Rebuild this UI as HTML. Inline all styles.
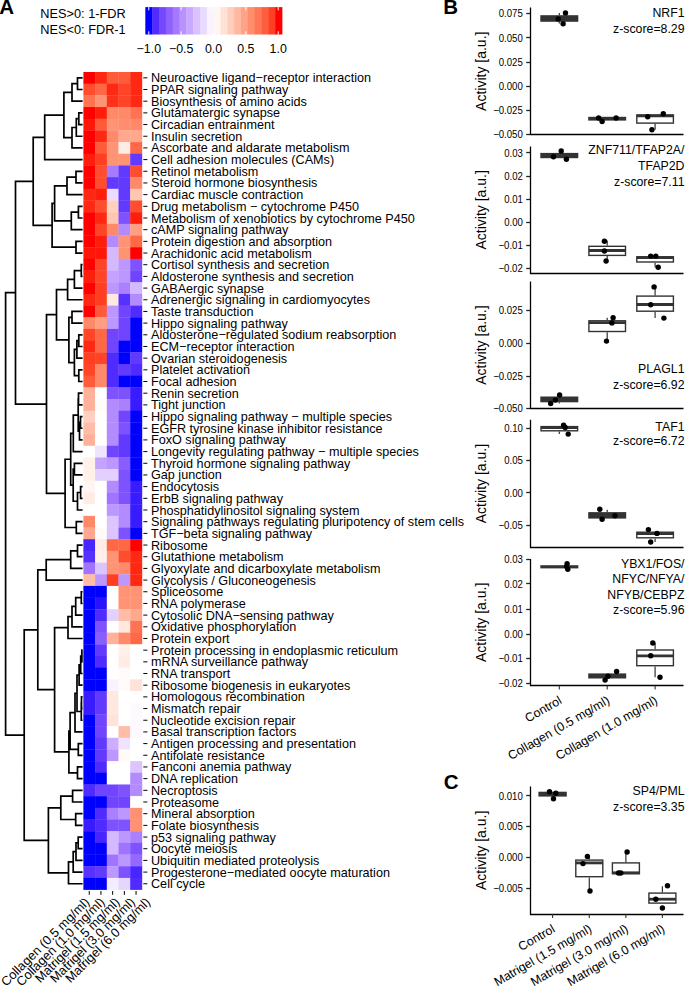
<!DOCTYPE html>
<html><head><meta charset="utf-8"><style>
html,body{margin:0;padding:0;background:#fff;width:685px;height:986px;overflow:hidden}
svg{display:block;font-family:"Liberation Sans", sans-serif}
</style></head><body>
<svg width="685" height="986" viewBox="0 0 685 986">
<text x="-0.8" y="14.3" font-size="20.5" text-anchor="start" font-weight="bold" fill="#000" >A</text>
<text x="40.3" y="18.1" font-size="12.75" text-anchor="start" font-weight="normal" fill="#000" >NES&gt;0: 1-FDR</text>
<text x="40.3" y="33.9" font-size="12.75" text-anchor="start" font-weight="normal" fill="#000" >NES&lt;0: FDR-1</text>
<rect x="145.3" y="7.1" width="7.23" height="27.4" fill="#0000ff"/>
<rect x="152.14" y="7.1" width="7.23" height="27.4" fill="#522cff"/>
<rect x="158.97" y="7.1" width="7.23" height="27.4" fill="#7448ff"/>
<rect x="165.81" y="7.1" width="7.23" height="27.4" fill="#8e61ff"/>
<rect x="172.64" y="7.1" width="7.23" height="27.4" fill="#a479ff"/>
<rect x="179.48" y="7.1" width="7.23" height="27.4" fill="#b891ff"/>
<rect x="186.31" y="7.1" width="7.23" height="27.4" fill="#c9a9ff"/>
<rect x="193.15" y="7.1" width="7.23" height="27.4" fill="#dac1ff"/>
<rect x="199.98" y="7.1" width="7.23" height="27.4" fill="#e9daff"/>
<rect x="206.81" y="7.1" width="7.23" height="27.4" fill="#f8f3ff"/>
<rect x="213.65" y="7.1" width="7.23" height="27.4" fill="#fff5f1"/>
<rect x="220.49" y="7.1" width="7.23" height="27.4" fill="#ffe1d6"/>
<rect x="227.32" y="7.1" width="7.23" height="27.4" fill="#ffcdbb"/>
<rect x="234.16" y="7.1" width="7.23" height="27.4" fill="#ffb8a1"/>
<rect x="240.99" y="7.1" width="7.23" height="27.4" fill="#ffa388"/>
<rect x="247.82" y="7.1" width="7.23" height="27.4" fill="#ff8e6e"/>
<rect x="254.66" y="7.1" width="7.23" height="27.4" fill="#ff7756"/>
<rect x="261.5" y="7.1" width="7.23" height="27.4" fill="#ff5e3d"/>
<rect x="268.33" y="7.1" width="7.23" height="27.4" fill="#ff3f23"/>
<rect x="275.16" y="7.1" width="7.23" height="27.4" fill="#ff0000"/>
<line x1="148.8" x2="148.8" y1="7.1" y2="10.3" stroke="#fff" stroke-width="1"/>
<line x1="148.8" x2="148.8" y1="31.3" y2="34.5" stroke="#fff" stroke-width="1"/>
<text x="148.8" y="52.5" font-size="12.4" text-anchor="middle" font-weight="normal" fill="#000" >−1.0</text>
<line x1="181.15" x2="181.15" y1="7.1" y2="10.3" stroke="#fff" stroke-width="1"/>
<line x1="181.15" x2="181.15" y1="31.3" y2="34.5" stroke="#fff" stroke-width="1"/>
<text x="181.15" y="52.5" font-size="12.4" text-anchor="middle" font-weight="normal" fill="#000" >−0.5</text>
<line x1="213.5" x2="213.5" y1="7.1" y2="10.3" stroke="#fff" stroke-width="1"/>
<line x1="213.5" x2="213.5" y1="31.3" y2="34.5" stroke="#fff" stroke-width="1"/>
<text x="213.5" y="52.5" font-size="12.4" text-anchor="middle" font-weight="normal" fill="#000" >0.0</text>
<line x1="245.85" x2="245.85" y1="7.1" y2="10.3" stroke="#fff" stroke-width="1"/>
<line x1="245.85" x2="245.85" y1="31.3" y2="34.5" stroke="#fff" stroke-width="1"/>
<text x="245.85" y="52.5" font-size="12.4" text-anchor="middle" font-weight="normal" fill="#000" >0.5</text>
<line x1="278.2" x2="278.2" y1="7.1" y2="10.3" stroke="#fff" stroke-width="1"/>
<line x1="278.2" x2="278.2" y1="31.3" y2="34.5" stroke="#fff" stroke-width="1"/>
<text x="278.2" y="52.5" font-size="12.4" text-anchor="middle" font-weight="normal" fill="#000" >1.0</text>
<rect x="83.4" y="72" width="12" height="11.98" fill="#ff0000"/>
<rect x="95.1" y="72" width="12" height="11.98" fill="#ff2913"/>
<rect x="106.8" y="72" width="12" height="11.98" fill="#ff5b3a"/>
<rect x="118.5" y="72" width="12" height="11.98" fill="#ff5b3a"/>
<rect x="130.2" y="72" width="12" height="11.98" fill="#ff2913"/>
<rect x="83.4" y="83.68" width="12" height="11.98" fill="#ff4d2e"/>
<rect x="95.1" y="83.68" width="12" height="11.98" fill="#ff6846"/>
<rect x="106.8" y="83.68" width="12" height="11.98" fill="#ff2913"/>
<rect x="118.5" y="83.68" width="12" height="11.98" fill="#ff4427"/>
<rect x="130.2" y="83.68" width="12" height="11.98" fill="#ff2913"/>
<rect x="83.4" y="95.36" width="12" height="11.98" fill="#ff7352"/>
<rect x="95.1" y="95.36" width="12" height="11.98" fill="#ff9475"/>
<rect x="106.8" y="95.36" width="12" height="11.98" fill="#ff3219"/>
<rect x="118.5" y="95.36" width="12" height="11.98" fill="#ff4427"/>
<rect x="130.2" y="95.36" width="12" height="11.98" fill="#ff2913"/>
<rect x="83.4" y="107.04" width="12" height="11.98" fill="#ff0000"/>
<rect x="95.1" y="107.04" width="12" height="11.98" fill="#ff1e0c"/>
<rect x="106.8" y="107.04" width="12" height="11.98" fill="#ff8969"/>
<rect x="118.5" y="107.04" width="12" height="11.98" fill="#ff8969"/>
<rect x="130.2" y="107.04" width="12" height="11.98" fill="#ff7352"/>
<rect x="83.4" y="118.72" width="12" height="11.98" fill="#ff1708"/>
<rect x="95.1" y="118.72" width="12" height="11.98" fill="#ff5b3a"/>
<rect x="106.8" y="118.72" width="12" height="11.98" fill="#ff9475"/>
<rect x="118.5" y="118.72" width="12" height="11.98" fill="#ff8d6e"/>
<rect x="130.2" y="118.72" width="12" height="11.98" fill="#ff8969"/>
<rect x="83.4" y="130.4" width="12" height="11.98" fill="#ff0000"/>
<rect x="95.1" y="130.4" width="12" height="11.98" fill="#ff2913"/>
<rect x="106.8" y="130.4" width="12" height="11.98" fill="#ff8969"/>
<rect x="118.5" y="130.4" width="12" height="11.98" fill="#ffa88d"/>
<rect x="130.2" y="130.4" width="12" height="11.98" fill="#ffa88d"/>
<rect x="83.4" y="142.08" width="12" height="11.98" fill="#ff0000"/>
<rect x="95.1" y="142.08" width="12" height="11.98" fill="#ff5b3a"/>
<rect x="106.8" y="142.08" width="12" height="11.98" fill="#ff9475"/>
<rect x="118.5" y="142.08" width="12" height="11.98" fill="#ffece5"/>
<rect x="130.2" y="142.08" width="12" height="11.98" fill="#ff6846"/>
<rect x="83.4" y="153.76" width="12" height="11.98" fill="#ff1e0c"/>
<rect x="95.1" y="153.76" width="12" height="11.98" fill="#ff3e22"/>
<rect x="106.8" y="153.76" width="12" height="11.98" fill="#ff9475"/>
<rect x="118.5" y="153.76" width="12" height="11.98" fill="#ff9475"/>
<rect x="130.2" y="153.76" width="12" height="11.98" fill="#6239ff"/>
<rect x="83.4" y="165.44" width="12" height="11.98" fill="#ff0000"/>
<rect x="95.1" y="165.44" width="12" height="11.98" fill="#ff4d2e"/>
<rect x="106.8" y="165.44" width="12" height="11.98" fill="#a67bff"/>
<rect x="118.5" y="165.44" width="12" height="11.98" fill="#6239ff"/>
<rect x="130.2" y="165.44" width="12" height="11.98" fill="#ff4d2e"/>
<rect x="83.4" y="177.12" width="12" height="11.98" fill="#ff0000"/>
<rect x="95.1" y="177.12" width="12" height="11.98" fill="#ff4d2e"/>
<rect x="106.8" y="177.12" width="12" height="11.98" fill="#6239ff"/>
<rect x="118.5" y="177.12" width="12" height="11.98" fill="#6239ff"/>
<rect x="130.2" y="177.12" width="12" height="11.98" fill="#ff8969"/>
<rect x="83.4" y="188.8" width="12" height="11.98" fill="#ff2913"/>
<rect x="95.1" y="188.8" width="12" height="11.98" fill="#ff1e0c"/>
<rect x="106.8" y="188.8" width="12" height="11.98" fill="#ebdcff"/>
<rect x="118.5" y="188.8" width="12" height="11.98" fill="#6239ff"/>
<rect x="130.2" y="188.8" width="12" height="11.98" fill="#ffc6b2"/>
<rect x="83.4" y="200.48" width="12" height="11.98" fill="#ff2913"/>
<rect x="95.1" y="200.48" width="12" height="11.98" fill="#ff4d2e"/>
<rect x="106.8" y="200.48" width="12" height="11.98" fill="#ffcfbf"/>
<rect x="118.5" y="200.48" width="12" height="11.98" fill="#6239ff"/>
<rect x="130.2" y="200.48" width="12" height="11.98" fill="#ff4d2e"/>
<rect x="83.4" y="212.16" width="12" height="11.98" fill="#ff0000"/>
<rect x="95.1" y="212.16" width="12" height="11.98" fill="#ff2913"/>
<rect x="106.8" y="212.16" width="12" height="11.98" fill="#ffc6b2"/>
<rect x="118.5" y="212.16" width="12" height="11.98" fill="#7e52ff"/>
<rect x="130.2" y="212.16" width="12" height="11.98" fill="#ff1e0c"/>
<rect x="83.4" y="223.84" width="12" height="11.98" fill="#ff0000"/>
<rect x="95.1" y="223.84" width="12" height="11.98" fill="#ff4427"/>
<rect x="106.8" y="223.84" width="12" height="11.98" fill="#ff8969"/>
<rect x="118.5" y="223.84" width="12" height="11.98" fill="#b38bff"/>
<rect x="130.2" y="223.84" width="12" height="11.98" fill="#ff9e81"/>
<rect x="83.4" y="235.52" width="12" height="11.98" fill="#ff0000"/>
<rect x="95.1" y="235.52" width="12" height="11.98" fill="#ff1e0c"/>
<rect x="106.8" y="235.52" width="12" height="11.98" fill="#b38bff"/>
<rect x="118.5" y="235.52" width="12" height="11.98" fill="#ff9475"/>
<rect x="130.2" y="235.52" width="12" height="11.98" fill="#ff6846"/>
<rect x="83.4" y="247.2" width="12" height="11.98" fill="#ff1708"/>
<rect x="95.1" y="247.2" width="12" height="11.98" fill="#ff1708"/>
<rect x="106.8" y="247.2" width="12" height="11.98" fill="#d4b9ff"/>
<rect x="118.5" y="247.2" width="12" height="11.98" fill="#ff9475"/>
<rect x="130.2" y="247.2" width="12" height="11.98" fill="#ff0000"/>
<rect x="83.4" y="258.88" width="12" height="11.98" fill="#ff0000"/>
<rect x="95.1" y="258.88" width="12" height="11.98" fill="#ff4427"/>
<rect x="106.8" y="258.88" width="12" height="11.98" fill="#d4b9ff"/>
<rect x="118.5" y="258.88" width="12" height="11.98" fill="#bc97ff"/>
<rect x="130.2" y="258.88" width="12" height="11.98" fill="#7e52ff"/>
<rect x="83.4" y="270.56" width="12" height="11.98" fill="#ff1e0c"/>
<rect x="95.1" y="270.56" width="12" height="11.98" fill="#ff4427"/>
<rect x="106.8" y="270.56" width="12" height="11.98" fill="#c4a2ff"/>
<rect x="118.5" y="270.56" width="12" height="11.98" fill="#bc97ff"/>
<rect x="130.2" y="270.56" width="12" height="11.98" fill="#7145ff"/>
<rect x="83.4" y="282.24" width="12" height="11.98" fill="#ff0000"/>
<rect x="95.1" y="282.24" width="12" height="11.98" fill="#ff3e22"/>
<rect x="106.8" y="282.24" width="12" height="11.98" fill="#bc97ff"/>
<rect x="118.5" y="282.24" width="12" height="11.98" fill="#aa80ff"/>
<rect x="130.2" y="282.24" width="12" height="11.98" fill="#d4b9ff"/>
<rect x="83.4" y="293.92" width="12" height="11.98" fill="#ff2913"/>
<rect x="95.1" y="293.92" width="12" height="11.98" fill="#ff3e22"/>
<rect x="106.8" y="293.92" width="12" height="11.98" fill="#ffe8e0"/>
<rect x="118.5" y="293.92" width="12" height="11.98" fill="#5731ff"/>
<rect x="130.2" y="293.92" width="12" height="11.98" fill="#b38bff"/>
<rect x="83.4" y="305.6" width="12" height="11.98" fill="#ff0000"/>
<rect x="95.1" y="305.6" width="12" height="11.98" fill="#ff5b3a"/>
<rect x="106.8" y="305.6" width="12" height="11.98" fill="#bc97ff"/>
<rect x="118.5" y="305.6" width="12" height="11.98" fill="#7145ff"/>
<rect x="130.2" y="305.6" width="12" height="11.98" fill="#502bff"/>
<rect x="83.4" y="317.28" width="12" height="11.98" fill="#ff8969"/>
<rect x="95.1" y="317.28" width="12" height="11.98" fill="#ff9e81"/>
<rect x="106.8" y="317.28" width="12" height="11.98" fill="#bc97ff"/>
<rect x="118.5" y="317.28" width="12" height="11.98" fill="#7145ff"/>
<rect x="130.2" y="317.28" width="12" height="11.98" fill="#0000ff"/>
<rect x="83.4" y="328.96" width="12" height="11.98" fill="#ff4427"/>
<rect x="95.1" y="328.96" width="12" height="11.98" fill="#ff6846"/>
<rect x="106.8" y="328.96" width="12" height="11.98" fill="#7145ff"/>
<rect x="118.5" y="328.96" width="12" height="11.98" fill="#7145ff"/>
<rect x="130.2" y="328.96" width="12" height="11.98" fill="#0000ff"/>
<rect x="83.4" y="340.64" width="12" height="11.98" fill="#ff2913"/>
<rect x="95.1" y="340.64" width="12" height="11.98" fill="#ff6846"/>
<rect x="106.8" y="340.64" width="12" height="11.98" fill="#7145ff"/>
<rect x="118.5" y="340.64" width="12" height="11.98" fill="#0000ff"/>
<rect x="130.2" y="340.64" width="12" height="11.98" fill="#0000ff"/>
<rect x="83.4" y="352.32" width="12" height="11.98" fill="#ff3e22"/>
<rect x="95.1" y="352.32" width="12" height="11.98" fill="#ff4427"/>
<rect x="106.8" y="352.32" width="12" height="11.98" fill="#502bff"/>
<rect x="118.5" y="352.32" width="12" height="11.98" fill="#0000ff"/>
<rect x="130.2" y="352.32" width="12" height="11.98" fill="#6239ff"/>
<rect x="83.4" y="364" width="12" height="11.98" fill="#ff4427"/>
<rect x="95.1" y="364" width="12" height="11.98" fill="#ff8969"/>
<rect x="106.8" y="364" width="12" height="11.98" fill="#502bff"/>
<rect x="118.5" y="364" width="12" height="11.98" fill="#6239ff"/>
<rect x="130.2" y="364" width="12" height="11.98" fill="#502bff"/>
<rect x="83.4" y="375.68" width="12" height="11.98" fill="#ff5b3a"/>
<rect x="95.1" y="375.68" width="12" height="11.98" fill="#ff8969"/>
<rect x="106.8" y="375.68" width="12" height="11.98" fill="#502bff"/>
<rect x="118.5" y="375.68" width="12" height="11.98" fill="#0000ff"/>
<rect x="130.2" y="375.68" width="12" height="11.98" fill="#0000ff"/>
<rect x="83.4" y="387.36" width="12" height="11.98" fill="#ffb299"/>
<rect x="95.1" y="387.36" width="12" height="11.98" fill="#ffffff"/>
<rect x="106.8" y="387.36" width="12" height="11.98" fill="#7e52ff"/>
<rect x="118.5" y="387.36" width="12" height="11.98" fill="#7e52ff"/>
<rect x="130.2" y="387.36" width="12" height="11.98" fill="#381bff"/>
<rect x="83.4" y="399.04" width="12" height="11.98" fill="#ffb299"/>
<rect x="95.1" y="399.04" width="12" height="11.98" fill="#fffbfa"/>
<rect x="106.8" y="399.04" width="12" height="11.98" fill="#b38bff"/>
<rect x="118.5" y="399.04" width="12" height="11.98" fill="#aa80ff"/>
<rect x="130.2" y="399.04" width="12" height="11.98" fill="#381bff"/>
<rect x="83.4" y="410.72" width="12" height="11.98" fill="#ffcfbf"/>
<rect x="95.1" y="410.72" width="12" height="11.98" fill="#ffffff"/>
<rect x="106.8" y="410.72" width="12" height="11.98" fill="#b38bff"/>
<rect x="118.5" y="410.72" width="12" height="11.98" fill="#7145ff"/>
<rect x="130.2" y="410.72" width="12" height="11.98" fill="#0000ff"/>
<rect x="83.4" y="422.4" width="12" height="11.98" fill="#ffbca6"/>
<rect x="95.1" y="422.4" width="12" height="11.98" fill="#ffffff"/>
<rect x="106.8" y="422.4" width="12" height="11.98" fill="#b38bff"/>
<rect x="118.5" y="422.4" width="12" height="11.98" fill="#7e52ff"/>
<rect x="130.2" y="422.4" width="12" height="11.98" fill="#0000ff"/>
<rect x="83.4" y="434.08" width="12" height="11.98" fill="#ffb299"/>
<rect x="95.1" y="434.08" width="12" height="11.98" fill="#ffffff"/>
<rect x="106.8" y="434.08" width="12" height="11.98" fill="#b38bff"/>
<rect x="118.5" y="434.08" width="12" height="11.98" fill="#6239ff"/>
<rect x="130.2" y="434.08" width="12" height="11.98" fill="#0000ff"/>
<rect x="83.4" y="445.76" width="12" height="11.98" fill="#ffffff"/>
<rect x="95.1" y="445.76" width="12" height="11.98" fill="#efe3ff"/>
<rect x="106.8" y="445.76" width="12" height="11.98" fill="#7145ff"/>
<rect x="118.5" y="445.76" width="12" height="11.98" fill="#6239ff"/>
<rect x="130.2" y="445.76" width="12" height="11.98" fill="#0000ff"/>
<rect x="83.4" y="457.44" width="12" height="11.98" fill="#fff0ea"/>
<rect x="95.1" y="457.44" width="12" height="11.98" fill="#c4a2ff"/>
<rect x="106.8" y="457.44" width="12" height="11.98" fill="#bc97ff"/>
<rect x="118.5" y="457.44" width="12" height="11.98" fill="#8a5dff"/>
<rect x="130.2" y="457.44" width="12" height="11.98" fill="#0000ff"/>
<rect x="83.4" y="469.12" width="12" height="11.98" fill="#fff0ea"/>
<rect x="95.1" y="469.12" width="12" height="11.98" fill="#e3d0ff"/>
<rect x="106.8" y="469.12" width="12" height="11.98" fill="#e3d0ff"/>
<rect x="118.5" y="469.12" width="12" height="11.98" fill="#7e52ff"/>
<rect x="130.2" y="469.12" width="12" height="11.98" fill="#0000ff"/>
<rect x="83.4" y="480.8" width="12" height="11.98" fill="#fff5f2"/>
<rect x="95.1" y="480.8" width="12" height="11.98" fill="#ffffff"/>
<rect x="106.8" y="480.8" width="12" height="11.98" fill="#b38bff"/>
<rect x="118.5" y="480.8" width="12" height="11.98" fill="#7e52ff"/>
<rect x="130.2" y="480.8" width="12" height="11.98" fill="#381bff"/>
<rect x="83.4" y="492.48" width="12" height="11.98" fill="#ffece5"/>
<rect x="95.1" y="492.48" width="12" height="11.98" fill="#ffffff"/>
<rect x="106.8" y="492.48" width="12" height="11.98" fill="#a074ff"/>
<rect x="118.5" y="492.48" width="12" height="11.98" fill="#7e52ff"/>
<rect x="130.2" y="492.48" width="12" height="11.98" fill="#381bff"/>
<rect x="83.4" y="504.16" width="12" height="11.98" fill="#ffffff"/>
<rect x="95.1" y="504.16" width="12" height="11.98" fill="#ffffff"/>
<rect x="106.8" y="504.16" width="12" height="11.98" fill="#bc97ff"/>
<rect x="118.5" y="504.16" width="12" height="11.98" fill="#b38bff"/>
<rect x="130.2" y="504.16" width="12" height="11.98" fill="#381bff"/>
<rect x="83.4" y="515.84" width="12" height="11.98" fill="#ff8969"/>
<rect x="95.1" y="515.84" width="12" height="11.98" fill="#ffffff"/>
<rect x="106.8" y="515.84" width="12" height="11.98" fill="#dcc4ff"/>
<rect x="118.5" y="515.84" width="12" height="11.98" fill="#b38bff"/>
<rect x="130.2" y="515.84" width="12" height="11.98" fill="#381bff"/>
<rect x="83.4" y="527.52" width="12" height="11.98" fill="#ffa88d"/>
<rect x="95.1" y="527.52" width="12" height="11.98" fill="#fffbfa"/>
<rect x="106.8" y="527.52" width="12" height="11.98" fill="#dcc4ff"/>
<rect x="118.5" y="527.52" width="12" height="11.98" fill="#7e52ff"/>
<rect x="130.2" y="527.52" width="12" height="11.98" fill="#0000ff"/>
<rect x="83.4" y="539.2" width="12" height="11.98" fill="#4725ff"/>
<rect x="95.1" y="539.2" width="12" height="11.98" fill="#ffece5"/>
<rect x="106.8" y="539.2" width="12" height="11.98" fill="#ff6846"/>
<rect x="118.5" y="539.2" width="12" height="11.98" fill="#ff6846"/>
<rect x="130.2" y="539.2" width="12" height="11.98" fill="#ff0000"/>
<rect x="83.4" y="550.88" width="12" height="11.98" fill="#5731ff"/>
<rect x="95.1" y="550.88" width="12" height="11.98" fill="#fff0ea"/>
<rect x="106.8" y="550.88" width="12" height="11.98" fill="#ff9475"/>
<rect x="118.5" y="550.88" width="12" height="11.98" fill="#ff4d2e"/>
<rect x="130.2" y="550.88" width="12" height="11.98" fill="#ff2913"/>
<rect x="83.4" y="562.56" width="12" height="11.98" fill="#a074ff"/>
<rect x="95.1" y="562.56" width="12" height="11.98" fill="#dcc4ff"/>
<rect x="106.8" y="562.56" width="12" height="11.98" fill="#ff9475"/>
<rect x="118.5" y="562.56" width="12" height="11.98" fill="#ff8969"/>
<rect x="130.2" y="562.56" width="12" height="11.98" fill="#ff2913"/>
<rect x="83.4" y="574.24" width="12" height="11.98" fill="#ffbca6"/>
<rect x="95.1" y="574.24" width="12" height="11.98" fill="#bc97ff"/>
<rect x="106.8" y="574.24" width="12" height="11.98" fill="#ff3e22"/>
<rect x="118.5" y="574.24" width="12" height="11.98" fill="#bc97ff"/>
<rect x="130.2" y="574.24" width="12" height="11.98" fill="#ff2913"/>
<rect x="83.4" y="585.92" width="12" height="11.98" fill="#0000ff"/>
<rect x="95.1" y="585.92" width="12" height="11.98" fill="#0000ff"/>
<rect x="106.8" y="585.92" width="12" height="11.98" fill="#ffffff"/>
<rect x="118.5" y="585.92" width="12" height="11.98" fill="#ff9475"/>
<rect x="130.2" y="585.92" width="12" height="11.98" fill="#ff9475"/>
<rect x="83.4" y="597.6" width="12" height="11.98" fill="#0000ff"/>
<rect x="95.1" y="597.6" width="12" height="11.98" fill="#2a12ff"/>
<rect x="106.8" y="597.6" width="12" height="11.98" fill="#ffffff"/>
<rect x="118.5" y="597.6" width="12" height="11.98" fill="#ff9475"/>
<rect x="130.2" y="597.6" width="12" height="11.98" fill="#ff9475"/>
<rect x="83.4" y="609.28" width="12" height="11.98" fill="#0000ff"/>
<rect x="95.1" y="609.28" width="12" height="11.98" fill="#502bff"/>
<rect x="106.8" y="609.28" width="12" height="11.98" fill="#e3d0ff"/>
<rect x="118.5" y="609.28" width="12" height="11.98" fill="#ffbca6"/>
<rect x="130.2" y="609.28" width="12" height="11.98" fill="#ffa88d"/>
<rect x="83.4" y="620.96" width="12" height="11.98" fill="#0000ff"/>
<rect x="95.1" y="620.96" width="12" height="11.98" fill="#7e52ff"/>
<rect x="106.8" y="620.96" width="12" height="11.98" fill="#ffffff"/>
<rect x="118.5" y="620.96" width="12" height="11.98" fill="#ffe8e0"/>
<rect x="130.2" y="620.96" width="12" height="11.98" fill="#ff7352"/>
<rect x="83.4" y="632.64" width="12" height="11.98" fill="#0000ff"/>
<rect x="95.1" y="632.64" width="12" height="11.98" fill="#8a5dff"/>
<rect x="106.8" y="632.64" width="12" height="11.98" fill="#ffb299"/>
<rect x="118.5" y="632.64" width="12" height="11.98" fill="#ff8969"/>
<rect x="130.2" y="632.64" width="12" height="11.98" fill="#ff6846"/>
<rect x="83.4" y="644.32" width="12" height="11.98" fill="#0000ff"/>
<rect x="95.1" y="644.32" width="12" height="11.98" fill="#6239ff"/>
<rect x="106.8" y="644.32" width="12" height="11.98" fill="#ffffff"/>
<rect x="118.5" y="644.32" width="12" height="11.98" fill="#fff0ea"/>
<rect x="130.2" y="644.32" width="12" height="11.98" fill="#ffffff"/>
<rect x="83.4" y="656" width="12" height="11.98" fill="#0000ff"/>
<rect x="95.1" y="656" width="12" height="11.98" fill="#502bff"/>
<rect x="106.8" y="656" width="12" height="11.98" fill="#ffffff"/>
<rect x="118.5" y="656" width="12" height="11.98" fill="#ffece5"/>
<rect x="130.2" y="656" width="12" height="11.98" fill="#ffffff"/>
<rect x="83.4" y="667.68" width="12" height="11.98" fill="#0000ff"/>
<rect x="95.1" y="667.68" width="12" height="11.98" fill="#0000ff"/>
<rect x="106.8" y="667.68" width="12" height="11.98" fill="#ffffff"/>
<rect x="118.5" y="667.68" width="12" height="11.98" fill="#fffbfa"/>
<rect x="130.2" y="667.68" width="12" height="11.98" fill="#ffffff"/>
<rect x="83.4" y="679.36" width="12" height="11.98" fill="#0000ff"/>
<rect x="95.1" y="679.36" width="12" height="11.98" fill="#0000ff"/>
<rect x="106.8" y="679.36" width="12" height="11.98" fill="#f8f3ff"/>
<rect x="118.5" y="679.36" width="12" height="11.98" fill="#fffbfa"/>
<rect x="130.2" y="679.36" width="12" height="11.98" fill="#ffe2d8"/>
<rect x="83.4" y="691.04" width="12" height="11.98" fill="#381bff"/>
<rect x="95.1" y="691.04" width="12" height="11.98" fill="#6239ff"/>
<rect x="106.8" y="691.04" width="12" height="11.98" fill="#ffe8e0"/>
<rect x="118.5" y="691.04" width="12" height="11.98" fill="#ffffff"/>
<rect x="130.2" y="691.04" width="12" height="11.98" fill="#ffffff"/>
<rect x="83.4" y="702.72" width="12" height="11.98" fill="#381bff"/>
<rect x="95.1" y="702.72" width="12" height="11.98" fill="#6239ff"/>
<rect x="106.8" y="702.72" width="12" height="11.98" fill="#ffe8e0"/>
<rect x="118.5" y="702.72" width="12" height="11.98" fill="#ffffff"/>
<rect x="130.2" y="702.72" width="12" height="11.98" fill="#fcfaff"/>
<rect x="83.4" y="714.4" width="12" height="11.98" fill="#0000ff"/>
<rect x="95.1" y="714.4" width="12" height="11.98" fill="#7145ff"/>
<rect x="106.8" y="714.4" width="12" height="11.98" fill="#ffe2d8"/>
<rect x="118.5" y="714.4" width="12" height="11.98" fill="#ffffff"/>
<rect x="130.2" y="714.4" width="12" height="11.98" fill="#fcfaff"/>
<rect x="83.4" y="726.08" width="12" height="11.98" fill="#0000ff"/>
<rect x="95.1" y="726.08" width="12" height="11.98" fill="#7145ff"/>
<rect x="106.8" y="726.08" width="12" height="11.98" fill="#ffffff"/>
<rect x="118.5" y="726.08" width="12" height="11.98" fill="#ffbca6"/>
<rect x="130.2" y="726.08" width="12" height="11.98" fill="#fcfaff"/>
<rect x="83.4" y="737.76" width="12" height="11.98" fill="#0000ff"/>
<rect x="95.1" y="737.76" width="12" height="11.98" fill="#6239ff"/>
<rect x="106.8" y="737.76" width="12" height="11.98" fill="#ccadff"/>
<rect x="118.5" y="737.76" width="12" height="11.98" fill="#efe3ff"/>
<rect x="130.2" y="737.76" width="12" height="11.98" fill="#ffffff"/>
<rect x="83.4" y="749.44" width="12" height="11.98" fill="#0000ff"/>
<rect x="95.1" y="749.44" width="12" height="11.98" fill="#6239ff"/>
<rect x="106.8" y="749.44" width="12" height="11.98" fill="#bc97ff"/>
<rect x="118.5" y="749.44" width="12" height="11.98" fill="#fff9f7"/>
<rect x="130.2" y="749.44" width="12" height="11.98" fill="#ffffff"/>
<rect x="83.4" y="761.12" width="12" height="11.98" fill="#0000ff"/>
<rect x="95.1" y="761.12" width="12" height="11.98" fill="#502bff"/>
<rect x="106.8" y="761.12" width="12" height="11.98" fill="#ffffff"/>
<rect x="118.5" y="761.12" width="12" height="11.98" fill="#ffffff"/>
<rect x="130.2" y="761.12" width="12" height="11.98" fill="#dcc4ff"/>
<rect x="83.4" y="772.8" width="12" height="11.98" fill="#0000ff"/>
<rect x="95.1" y="772.8" width="12" height="11.98" fill="#0000ff"/>
<rect x="106.8" y="772.8" width="12" height="11.98" fill="#ffffff"/>
<rect x="118.5" y="772.8" width="12" height="11.98" fill="#ffffff"/>
<rect x="130.2" y="772.8" width="12" height="11.98" fill="#b38bff"/>
<rect x="83.4" y="784.48" width="12" height="11.98" fill="#502bff"/>
<rect x="95.1" y="784.48" width="12" height="11.98" fill="#7145ff"/>
<rect x="106.8" y="784.48" width="12" height="11.98" fill="#7145ff"/>
<rect x="118.5" y="784.48" width="12" height="11.98" fill="#7e52ff"/>
<rect x="130.2" y="784.48" width="12" height="11.98" fill="#b38bff"/>
<rect x="83.4" y="796.16" width="12" height="11.98" fill="#0000ff"/>
<rect x="95.1" y="796.16" width="12" height="11.98" fill="#0000ff"/>
<rect x="106.8" y="796.16" width="12" height="11.98" fill="#7145ff"/>
<rect x="118.5" y="796.16" width="12" height="11.98" fill="#7145ff"/>
<rect x="130.2" y="796.16" width="12" height="11.98" fill="#ffffff"/>
<rect x="83.4" y="807.84" width="12" height="11.98" fill="#0000ff"/>
<rect x="95.1" y="807.84" width="12" height="11.98" fill="#502bff"/>
<rect x="106.8" y="807.84" width="12" height="11.98" fill="#aa80ff"/>
<rect x="118.5" y="807.84" width="12" height="11.98" fill="#bc97ff"/>
<rect x="130.2" y="807.84" width="12" height="11.98" fill="#ff9071"/>
<rect x="83.4" y="819.52" width="12" height="11.98" fill="#381bff"/>
<rect x="95.1" y="819.52" width="12" height="11.98" fill="#502bff"/>
<rect x="106.8" y="819.52" width="12" height="11.98" fill="#7e52ff"/>
<rect x="118.5" y="819.52" width="12" height="11.98" fill="#7e52ff"/>
<rect x="130.2" y="819.52" width="12" height="11.98" fill="#ff9071"/>
<rect x="83.4" y="831.2" width="12" height="11.98" fill="#0000ff"/>
<rect x="95.1" y="831.2" width="12" height="11.98" fill="#4725ff"/>
<rect x="106.8" y="831.2" width="12" height="11.98" fill="#d4b9ff"/>
<rect x="118.5" y="831.2" width="12" height="11.98" fill="#bc97ff"/>
<rect x="130.2" y="831.2" width="12" height="11.98" fill="#aa80ff"/>
<rect x="83.4" y="842.88" width="12" height="11.98" fill="#0000ff"/>
<rect x="95.1" y="842.88" width="12" height="11.98" fill="#0000ff"/>
<rect x="106.8" y="842.88" width="12" height="11.98" fill="#d4b9ff"/>
<rect x="118.5" y="842.88" width="12" height="11.98" fill="#a074ff"/>
<rect x="130.2" y="842.88" width="12" height="11.98" fill="#7e52ff"/>
<rect x="83.4" y="854.56" width="12" height="11.98" fill="#0000ff"/>
<rect x="95.1" y="854.56" width="12" height="11.98" fill="#0000ff"/>
<rect x="106.8" y="854.56" width="12" height="11.98" fill="#a074ff"/>
<rect x="118.5" y="854.56" width="12" height="11.98" fill="#bc97ff"/>
<rect x="130.2" y="854.56" width="12" height="11.98" fill="#9569ff"/>
<rect x="83.4" y="866.24" width="12" height="11.98" fill="#5731ff"/>
<rect x="95.1" y="866.24" width="12" height="11.98" fill="#6239ff"/>
<rect x="106.8" y="866.24" width="12" height="11.98" fill="#bc97ff"/>
<rect x="118.5" y="866.24" width="12" height="11.98" fill="#7e52ff"/>
<rect x="130.2" y="866.24" width="12" height="11.98" fill="#4725ff"/>
<rect x="83.4" y="877.92" width="12" height="11.98" fill="#0000ff"/>
<rect x="95.1" y="877.92" width="12" height="11.98" fill="#0000ff"/>
<rect x="106.8" y="877.92" width="12" height="11.98" fill="#f4ecff"/>
<rect x="118.5" y="877.92" width="12" height="11.98" fill="#e6d5ff"/>
<rect x="130.2" y="877.92" width="12" height="11.98" fill="#502bff"/>
<line x1="143.3" x2="147.4" y1="77.84" y2="77.84" stroke="#000" stroke-width="1"/>
<text x="151" y="82.34" font-size="12.63" text-anchor="start" font-weight="normal" fill="#000" >Neuroactive ligand−receptor interaction</text>
<line x1="143.3" x2="147.4" y1="89.52" y2="89.52" stroke="#000" stroke-width="1"/>
<text x="151" y="94.02" font-size="12.63" text-anchor="start" font-weight="normal" fill="#000" >PPAR signaling pathway</text>
<line x1="143.3" x2="147.4" y1="101.2" y2="101.2" stroke="#000" stroke-width="1"/>
<text x="151" y="105.7" font-size="12.63" text-anchor="start" font-weight="normal" fill="#000" >Biosynthesis of amino acids</text>
<line x1="143.3" x2="147.4" y1="112.88" y2="112.88" stroke="#000" stroke-width="1"/>
<text x="151" y="117.38" font-size="12.63" text-anchor="start" font-weight="normal" fill="#000" >Glutamatergic synapse</text>
<line x1="143.3" x2="147.4" y1="124.56" y2="124.56" stroke="#000" stroke-width="1"/>
<text x="151" y="129.06" font-size="12.63" text-anchor="start" font-weight="normal" fill="#000" >Circadian entrainment</text>
<line x1="143.3" x2="147.4" y1="136.24" y2="136.24" stroke="#000" stroke-width="1"/>
<text x="151" y="140.74" font-size="12.63" text-anchor="start" font-weight="normal" fill="#000" >Insulin secretion</text>
<line x1="143.3" x2="147.4" y1="147.92" y2="147.92" stroke="#000" stroke-width="1"/>
<text x="151" y="152.42" font-size="12.63" text-anchor="start" font-weight="normal" fill="#000" >Ascorbate and aldarate metabolism</text>
<line x1="143.3" x2="147.4" y1="159.6" y2="159.6" stroke="#000" stroke-width="1"/>
<text x="151" y="164.1" font-size="12.63" text-anchor="start" font-weight="normal" fill="#000" >Cell adhesion molecules (CAMs)</text>
<line x1="143.3" x2="147.4" y1="171.28" y2="171.28" stroke="#000" stroke-width="1"/>
<text x="151" y="175.78" font-size="12.63" text-anchor="start" font-weight="normal" fill="#000" >Retinol metabolism</text>
<line x1="143.3" x2="147.4" y1="182.96" y2="182.96" stroke="#000" stroke-width="1"/>
<text x="151" y="187.46" font-size="12.63" text-anchor="start" font-weight="normal" fill="#000" >Steroid hormone biosynthesis</text>
<line x1="143.3" x2="147.4" y1="194.64" y2="194.64" stroke="#000" stroke-width="1"/>
<text x="151" y="199.14" font-size="12.63" text-anchor="start" font-weight="normal" fill="#000" >Cardiac muscle contraction</text>
<line x1="143.3" x2="147.4" y1="206.32" y2="206.32" stroke="#000" stroke-width="1"/>
<text x="151" y="210.82" font-size="12.63" text-anchor="start" font-weight="normal" fill="#000" >Drug metabolism − cytochrome P450</text>
<line x1="143.3" x2="147.4" y1="218" y2="218" stroke="#000" stroke-width="1"/>
<text x="151" y="222.5" font-size="12.63" text-anchor="start" font-weight="normal" fill="#000" >Metabolism of xenobiotics by cytochrome P450</text>
<line x1="143.3" x2="147.4" y1="229.68" y2="229.68" stroke="#000" stroke-width="1"/>
<text x="151" y="234.18" font-size="12.63" text-anchor="start" font-weight="normal" fill="#000" >cAMP signaling pathway</text>
<line x1="143.3" x2="147.4" y1="241.36" y2="241.36" stroke="#000" stroke-width="1"/>
<text x="151" y="245.86" font-size="12.63" text-anchor="start" font-weight="normal" fill="#000" >Protein digestion and absorption</text>
<line x1="143.3" x2="147.4" y1="253.04" y2="253.04" stroke="#000" stroke-width="1"/>
<text x="151" y="257.54" font-size="12.63" text-anchor="start" font-weight="normal" fill="#000" >Arachidonic acid metabolism</text>
<line x1="143.3" x2="147.4" y1="264.72" y2="264.72" stroke="#000" stroke-width="1"/>
<text x="151" y="269.22" font-size="12.63" text-anchor="start" font-weight="normal" fill="#000" >Cortisol synthesis and secretion</text>
<line x1="143.3" x2="147.4" y1="276.4" y2="276.4" stroke="#000" stroke-width="1"/>
<text x="151" y="280.9" font-size="12.63" text-anchor="start" font-weight="normal" fill="#000" >Aldosterone synthesis and secretion</text>
<line x1="143.3" x2="147.4" y1="288.08" y2="288.08" stroke="#000" stroke-width="1"/>
<text x="151" y="292.58" font-size="12.63" text-anchor="start" font-weight="normal" fill="#000" >GABAergic synapse</text>
<line x1="143.3" x2="147.4" y1="299.76" y2="299.76" stroke="#000" stroke-width="1"/>
<text x="151" y="304.26" font-size="12.63" text-anchor="start" font-weight="normal" fill="#000" >Adrenergic signaling in cardiomyocytes</text>
<line x1="143.3" x2="147.4" y1="311.44" y2="311.44" stroke="#000" stroke-width="1"/>
<text x="151" y="315.94" font-size="12.63" text-anchor="start" font-weight="normal" fill="#000" >Taste transduction</text>
<line x1="143.3" x2="147.4" y1="323.12" y2="323.12" stroke="#000" stroke-width="1"/>
<text x="151" y="327.62" font-size="12.63" text-anchor="start" font-weight="normal" fill="#000" >Hippo signaling pathway</text>
<line x1="143.3" x2="147.4" y1="334.8" y2="334.8" stroke="#000" stroke-width="1"/>
<text x="151" y="339.3" font-size="12.63" text-anchor="start" font-weight="normal" fill="#000" >Aldosterone−regulated sodium reabsorption</text>
<line x1="143.3" x2="147.4" y1="346.48" y2="346.48" stroke="#000" stroke-width="1"/>
<text x="151" y="350.98" font-size="12.63" text-anchor="start" font-weight="normal" fill="#000" >ECM−receptor interaction</text>
<line x1="143.3" x2="147.4" y1="358.16" y2="358.16" stroke="#000" stroke-width="1"/>
<text x="151" y="362.66" font-size="12.63" text-anchor="start" font-weight="normal" fill="#000" >Ovarian steroidogenesis</text>
<line x1="143.3" x2="147.4" y1="369.84" y2="369.84" stroke="#000" stroke-width="1"/>
<text x="151" y="374.34" font-size="12.63" text-anchor="start" font-weight="normal" fill="#000" >Platelet activation</text>
<line x1="143.3" x2="147.4" y1="381.52" y2="381.52" stroke="#000" stroke-width="1"/>
<text x="151" y="386.02" font-size="12.63" text-anchor="start" font-weight="normal" fill="#000" >Focal adhesion</text>
<line x1="143.3" x2="147.4" y1="393.2" y2="393.2" stroke="#000" stroke-width="1"/>
<text x="151" y="397.7" font-size="12.63" text-anchor="start" font-weight="normal" fill="#000" >Renin secretion</text>
<line x1="143.3" x2="147.4" y1="404.88" y2="404.88" stroke="#000" stroke-width="1"/>
<text x="151" y="409.38" font-size="12.63" text-anchor="start" font-weight="normal" fill="#000" >Tight junction</text>
<line x1="143.3" x2="147.4" y1="416.56" y2="416.56" stroke="#000" stroke-width="1"/>
<text x="151" y="421.06" font-size="12.63" text-anchor="start" font-weight="normal" fill="#000" >Hippo signaling pathway − multiple species</text>
<line x1="143.3" x2="147.4" y1="428.24" y2="428.24" stroke="#000" stroke-width="1"/>
<text x="151" y="432.74" font-size="12.63" text-anchor="start" font-weight="normal" fill="#000" >EGFR tyrosine kinase inhibitor resistance</text>
<line x1="143.3" x2="147.4" y1="439.92" y2="439.92" stroke="#000" stroke-width="1"/>
<text x="151" y="444.42" font-size="12.63" text-anchor="start" font-weight="normal" fill="#000" >FoxO signaling pathway</text>
<line x1="143.3" x2="147.4" y1="451.6" y2="451.6" stroke="#000" stroke-width="1"/>
<text x="151" y="456.1" font-size="12.63" text-anchor="start" font-weight="normal" fill="#000" >Longevity regulating pathway − multiple species</text>
<line x1="143.3" x2="147.4" y1="463.28" y2="463.28" stroke="#000" stroke-width="1"/>
<text x="151" y="467.78" font-size="12.63" text-anchor="start" font-weight="normal" fill="#000" >Thyroid hormone signaling pathway</text>
<line x1="143.3" x2="147.4" y1="474.96" y2="474.96" stroke="#000" stroke-width="1"/>
<text x="151" y="479.46" font-size="12.63" text-anchor="start" font-weight="normal" fill="#000" >Gap junction</text>
<line x1="143.3" x2="147.4" y1="486.64" y2="486.64" stroke="#000" stroke-width="1"/>
<text x="151" y="491.14" font-size="12.63" text-anchor="start" font-weight="normal" fill="#000" >Endocytosis</text>
<line x1="143.3" x2="147.4" y1="498.32" y2="498.32" stroke="#000" stroke-width="1"/>
<text x="151" y="502.82" font-size="12.63" text-anchor="start" font-weight="normal" fill="#000" >ErbB signaling pathway</text>
<line x1="143.3" x2="147.4" y1="510" y2="510" stroke="#000" stroke-width="1"/>
<text x="151" y="514.5" font-size="12.63" text-anchor="start" font-weight="normal" fill="#000" >Phosphatidylinositol signaling system</text>
<line x1="143.3" x2="147.4" y1="521.68" y2="521.68" stroke="#000" stroke-width="1"/>
<text x="151" y="526.18" font-size="12.63" text-anchor="start" font-weight="normal" fill="#000" >Signaling pathways regulating pluripotency of stem cells</text>
<line x1="143.3" x2="147.4" y1="533.36" y2="533.36" stroke="#000" stroke-width="1"/>
<text x="151" y="537.86" font-size="12.63" text-anchor="start" font-weight="normal" fill="#000" >TGF−beta signaling pathway</text>
<line x1="143.3" x2="147.4" y1="545.04" y2="545.04" stroke="#000" stroke-width="1"/>
<text x="151" y="549.54" font-size="12.63" text-anchor="start" font-weight="normal" fill="#000" >Ribosome</text>
<line x1="143.3" x2="147.4" y1="556.72" y2="556.72" stroke="#000" stroke-width="1"/>
<text x="151" y="561.22" font-size="12.63" text-anchor="start" font-weight="normal" fill="#000" >Glutathione metabolism</text>
<line x1="143.3" x2="147.4" y1="568.4" y2="568.4" stroke="#000" stroke-width="1"/>
<text x="151" y="572.9" font-size="12.63" text-anchor="start" font-weight="normal" fill="#000" >Glyoxylate and dicarboxylate metabolism</text>
<line x1="143.3" x2="147.4" y1="580.08" y2="580.08" stroke="#000" stroke-width="1"/>
<text x="151" y="584.58" font-size="12.63" text-anchor="start" font-weight="normal" fill="#000" >Glycolysis / Gluconeogenesis</text>
<line x1="143.3" x2="147.4" y1="591.76" y2="591.76" stroke="#000" stroke-width="1"/>
<text x="151" y="596.26" font-size="12.63" text-anchor="start" font-weight="normal" fill="#000" >Spliceosome</text>
<line x1="143.3" x2="147.4" y1="603.44" y2="603.44" stroke="#000" stroke-width="1"/>
<text x="151" y="607.94" font-size="12.63" text-anchor="start" font-weight="normal" fill="#000" >RNA polymerase</text>
<line x1="143.3" x2="147.4" y1="615.12" y2="615.12" stroke="#000" stroke-width="1"/>
<text x="151" y="619.62" font-size="12.63" text-anchor="start" font-weight="normal" fill="#000" >Cytosolic DNA−sensing pathway</text>
<line x1="143.3" x2="147.4" y1="626.8" y2="626.8" stroke="#000" stroke-width="1"/>
<text x="151" y="631.3" font-size="12.63" text-anchor="start" font-weight="normal" fill="#000" >Oxidative phosphorylation</text>
<line x1="143.3" x2="147.4" y1="638.48" y2="638.48" stroke="#000" stroke-width="1"/>
<text x="151" y="642.98" font-size="12.63" text-anchor="start" font-weight="normal" fill="#000" >Protein export</text>
<line x1="143.3" x2="147.4" y1="650.16" y2="650.16" stroke="#000" stroke-width="1"/>
<text x="151" y="654.66" font-size="12.63" text-anchor="start" font-weight="normal" fill="#000" >Protein processing in endoplasmic reticulum</text>
<line x1="143.3" x2="147.4" y1="661.84" y2="661.84" stroke="#000" stroke-width="1"/>
<text x="151" y="666.34" font-size="12.63" text-anchor="start" font-weight="normal" fill="#000" >mRNA surveillance pathway</text>
<line x1="143.3" x2="147.4" y1="673.52" y2="673.52" stroke="#000" stroke-width="1"/>
<text x="151" y="678.02" font-size="12.63" text-anchor="start" font-weight="normal" fill="#000" >RNA transport</text>
<line x1="143.3" x2="147.4" y1="685.2" y2="685.2" stroke="#000" stroke-width="1"/>
<text x="151" y="689.7" font-size="12.63" text-anchor="start" font-weight="normal" fill="#000" >Ribosome biogenesis in eukaryotes</text>
<line x1="143.3" x2="147.4" y1="696.88" y2="696.88" stroke="#000" stroke-width="1"/>
<text x="151" y="701.38" font-size="12.63" text-anchor="start" font-weight="normal" fill="#000" >Homologous recombination</text>
<line x1="143.3" x2="147.4" y1="708.56" y2="708.56" stroke="#000" stroke-width="1"/>
<text x="151" y="713.06" font-size="12.63" text-anchor="start" font-weight="normal" fill="#000" >Mismatch repair</text>
<line x1="143.3" x2="147.4" y1="720.24" y2="720.24" stroke="#000" stroke-width="1"/>
<text x="151" y="724.74" font-size="12.63" text-anchor="start" font-weight="normal" fill="#000" >Nucleotide excision repair</text>
<line x1="143.3" x2="147.4" y1="731.92" y2="731.92" stroke="#000" stroke-width="1"/>
<text x="151" y="736.42" font-size="12.63" text-anchor="start" font-weight="normal" fill="#000" >Basal transcription factors</text>
<line x1="143.3" x2="147.4" y1="743.6" y2="743.6" stroke="#000" stroke-width="1"/>
<text x="151" y="748.1" font-size="12.63" text-anchor="start" font-weight="normal" fill="#000" >Antigen processing and presentation</text>
<line x1="143.3" x2="147.4" y1="755.28" y2="755.28" stroke="#000" stroke-width="1"/>
<text x="151" y="759.78" font-size="12.63" text-anchor="start" font-weight="normal" fill="#000" >Antifolate resistance</text>
<line x1="143.3" x2="147.4" y1="766.96" y2="766.96" stroke="#000" stroke-width="1"/>
<text x="151" y="771.46" font-size="12.63" text-anchor="start" font-weight="normal" fill="#000" >Fanconi anemia pathway</text>
<line x1="143.3" x2="147.4" y1="778.64" y2="778.64" stroke="#000" stroke-width="1"/>
<text x="151" y="783.14" font-size="12.63" text-anchor="start" font-weight="normal" fill="#000" >DNA replication</text>
<line x1="143.3" x2="147.4" y1="790.32" y2="790.32" stroke="#000" stroke-width="1"/>
<text x="151" y="794.82" font-size="12.63" text-anchor="start" font-weight="normal" fill="#000" >Necroptosis</text>
<line x1="143.3" x2="147.4" y1="802" y2="802" stroke="#000" stroke-width="1"/>
<text x="151" y="806.5" font-size="12.63" text-anchor="start" font-weight="normal" fill="#000" >Proteasome</text>
<line x1="143.3" x2="147.4" y1="813.68" y2="813.68" stroke="#000" stroke-width="1"/>
<text x="151" y="818.18" font-size="12.63" text-anchor="start" font-weight="normal" fill="#000" >Mineral absorption</text>
<line x1="143.3" x2="147.4" y1="825.36" y2="825.36" stroke="#000" stroke-width="1"/>
<text x="151" y="829.86" font-size="12.63" text-anchor="start" font-weight="normal" fill="#000" >Folate biosynthesis</text>
<line x1="143.3" x2="147.4" y1="837.04" y2="837.04" stroke="#000" stroke-width="1"/>
<text x="151" y="841.54" font-size="12.63" text-anchor="start" font-weight="normal" fill="#000" >p53 signaling pathway</text>
<line x1="143.3" x2="147.4" y1="848.72" y2="848.72" stroke="#000" stroke-width="1"/>
<text x="151" y="853.22" font-size="12.63" text-anchor="start" font-weight="normal" fill="#000" >Oocyte meiosis</text>
<line x1="143.3" x2="147.4" y1="860.4" y2="860.4" stroke="#000" stroke-width="1"/>
<text x="151" y="864.9" font-size="12.63" text-anchor="start" font-weight="normal" fill="#000" >Ubiquitin mediated proteolysis</text>
<line x1="143.3" x2="147.4" y1="872.08" y2="872.08" stroke="#000" stroke-width="1"/>
<text x="151" y="876.58" font-size="12.63" text-anchor="start" font-weight="normal" fill="#000" >Progesterone−mediated oocyte maturation</text>
<line x1="143.3" x2="147.4" y1="883.76" y2="883.76" stroke="#000" stroke-width="1"/>
<text x="151" y="888.26" font-size="12.63" text-anchor="start" font-weight="normal" fill="#000" >Cell cycle</text>
<line x1="89.25" x2="89.25" y1="891" y2="894.8" stroke="#000" stroke-width="1"/>
<text x="0" y="0" font-size="12.8" text-anchor="end" transform="translate(90.25,903) rotate(-45)">Collagen (0.5 mg/ml)</text>
<line x1="100.95" x2="100.95" y1="891" y2="894.8" stroke="#000" stroke-width="1"/>
<text x="0" y="0" font-size="12.8" text-anchor="end" transform="translate(105.43,903) rotate(-45)">Collagen (1.0 mg/ml)</text>
<line x1="112.65" x2="112.65" y1="891" y2="894.8" stroke="#000" stroke-width="1"/>
<text x="0" y="0" font-size="12.8" text-anchor="end" transform="translate(120.61,903) rotate(-45)">Matrigel (1.5 mg/ml)</text>
<line x1="124.35" x2="124.35" y1="891" y2="894.8" stroke="#000" stroke-width="1"/>
<text x="0" y="0" font-size="12.8" text-anchor="end" transform="translate(135.79,903) rotate(-45)">Matrigel (3.0 mg/ml)</text>
<line x1="136.05" x2="136.05" y1="891" y2="894.8" stroke="#000" stroke-width="1"/>
<text x="0" y="0" font-size="12.8" text-anchor="end" transform="translate(150.97,903) rotate(-45)">Matrigel (6.0 mg/ml)</text>
<path d="M82.6 77.84H77.5V89.52H82.6 M77.5 83.68H72V101.2H82.6 M82.6 112.88H78.8V124.56H82.6 M78.8 118.72H76.3V136.24H82.6 M76.3 127.48H72V147.92H82.6 M72 92.44H63.9V137.7H72 M63.9 115.07H44.7V159.6H82.6 M82.6 171.28H76V182.96H82.6 M76 177.12H67V194.64H82.6 M82.6 206.32H78.4V218H82.6 M78.4 212.16H71.3V229.68H82.6 M67 185.88H54.6V220.92H71.3 M82.6 241.36H76V253.04H82.6 M54.6 203.4H52.1V247.2H76 M44.7 137.34H33.2V225.3H52.1 M82.6 264.72H81.3V276.4H82.6 M81.3 270.56H74.4V288.08H82.6 M74.4 279.32H67.6V299.76H82.6 M82.6 311.44H72V323.12H82.6 M82.6 334.8H78.8V346.48H82.6 M78.8 340.64H76.9V358.16H82.6 M82.6 369.84H78.8V381.52H82.6 M76.9 349.4H74.4V375.68H78.8 M72 317.28H68.9V362.54H74.4 M67.6 289.54H56.5V339.91H68.9 M82.6 393.2H78.5V404.88H82.6 M82.6 416.56H80.5V428.24H82.6 M80.5 422.4H79.5V439.92H82.6 M78.5 399.04H78.2V431.16H79.5 M78.2 415.1H73.3V451.6H82.6 M82.6 463.28H74.4V474.96H82.6 M82.6 486.64H80.6V498.32H82.6 M80.6 492.48H77.5V510H82.6 M74.4 469.12H73.2V501.24H77.5 M73.3 433.35H70.7V485.18H73.2 M82.6 521.68H76.3V533.36H82.6 M70.7 459.26H65.1V527.52H76.3 M56.5 314.72H46.5V493.39H65.1 M33.2 181.32H15.5V404.06H46.5 M82.6 545.04H77.5V556.72H82.6 M77.5 550.88H70.7V568.4H82.6 M70.7 559.64H46.2V580.08H82.6 M82.6 591.76H81.3V603.44H82.6 M81.3 597.6H75.7V615.12H82.6 M75.7 606.36H72V626.8H82.6 M72 616.58H68V638.48H82.6 M82.6 650.16H81.9V661.84H82.6 M81.9 656H80.7V673.52H82.6 M80.7 664.76H79.1V685.2H82.6 M82.6 696.88H81.5V708.56H82.6 M81.5 702.72H81.3V720.24H82.6 M79.1 674.98H77V711.48H81.3 M77 693.23H75V731.92H82.6 M82.6 743.6H78.3V755.28H82.6 M75 712.58H70.1V749.44H78.3 M82.6 766.96H77.5V778.64H82.6 M70.1 731.01H68.9V772.8H77.5 M68 627.53H54.6V751.9H68.9 M46.2 569.86H37.8V689.72H54.6 M82.6 790.32H72.6V802H82.6 M82.6 813.68H75.7V825.36H82.6 M72.6 796.16H60.8V819.52H75.7 M82.6 837.04H78.2V848.72H82.6 M78.2 842.88H76V860.4H82.6 M76 851.64H73.2V872.08H82.6 M73.2 861.86H68.5V883.76H82.6 M60.8 807.84H48.4V872.81H68.5 M37.8 629.79H24.2V840.32H48.4 M15.5 292.69H5.6V735.06H24.2" fill="none" stroke="#000" stroke-width="1.7" stroke-linejoin="miter" stroke-linecap="butt"/>
<text x="443.3" y="14.3" font-size="20.5" text-anchor="start" font-weight="bold" fill="#000" >B</text>
<text x="443.8" y="789" font-size="20.5" text-anchor="start" font-weight="bold" fill="#000" >C</text>
<path d="M530.5 7.5V134.5H683.5" fill="none" stroke="#000" stroke-width="1.3"/>
<line x1="526.2" x2="530.0" y1="13.5" y2="13.5" stroke="#222" stroke-width="1.3"/>
<text x="0" y="0" font-size="10.4" text-anchor="end" transform="translate(522.8,17.25) scale(0.923,1)">0.075</text>
<line x1="526.2" x2="530.0" y1="37.5" y2="37.5" stroke="#222" stroke-width="1.3"/>
<text x="0" y="0" font-size="10.4" text-anchor="end" transform="translate(522.8,41.65) scale(0.923,1)">0.050</text>
<line x1="526.2" x2="530.0" y1="62.5" y2="62.5" stroke="#222" stroke-width="1.3"/>
<text x="0" y="0" font-size="10.4" text-anchor="end" transform="translate(522.8,65.85) scale(0.923,1)">0.025</text>
<line x1="526.2" x2="530.0" y1="86.5" y2="86.5" stroke="#222" stroke-width="1.3"/>
<text x="0" y="0" font-size="10.4" text-anchor="end" transform="translate(522.8,89.75) scale(0.923,1)">0.000</text>
<line x1="526.2" x2="530.0" y1="110.5" y2="110.5" stroke="#222" stroke-width="1.3"/>
<text x="0" y="0" font-size="10.4" text-anchor="end" transform="translate(522.8,113.75) scale(0.923,1)">−0.025</text>
<line x1="526.2" x2="530.0" y1="134.5" y2="134.5" stroke="#222" stroke-width="1.3"/>
<text x="0" y="0" font-size="10.4" text-anchor="end" transform="translate(522.8,137.85) scale(0.923,1)">−0.050</text>
<text x="0" y="0" font-size="14" text-anchor="middle" transform="translate(485.8,71.25) rotate(-90)">Activity [a.u.]</text>
<line x1="559.3" x2="559.3" y1="13" y2="15.2" stroke="#333333" stroke-width="1.2"/>
<line x1="559.3" x2="559.3" y1="21.8" y2="23.5" stroke="#333333" stroke-width="1.2"/>
<rect x="540.3" y="15.2" width="38" height="6.6" fill="#333333"/>
<rect x="588.2" y="116.8" width="38" height="3.8" fill="#333333"/>
<line x1="655.1" x2="655.1" y1="123.8" y2="129.7" stroke="#333333" stroke-width="1.2"/>
<rect x="636.8" y="115" width="36.6" height="8.1" fill="#fff" stroke="#333333" stroke-width="1.4"/>
<line x1="636.8" x2="673.4" y1="115.8" y2="115.8" stroke="#333333" stroke-width="2.8"/>
<circle cx="565.5" cy="13" r="2.7" fill="#000"/>
<circle cx="558.2" cy="18.9" r="2.7" fill="#000"/>
<circle cx="563.1" cy="23.8" r="2.7" fill="#000"/>
<circle cx="598.6" cy="118" r="2.7" fill="#000"/>
<circle cx="602.1" cy="121.5" r="2.7" fill="#000"/>
<circle cx="616.1" cy="118" r="2.7" fill="#000"/>
<circle cx="647.7" cy="116.8" r="2.7" fill="#000"/>
<circle cx="663.3" cy="113.8" r="2.7" fill="#000"/>
<circle cx="651.9" cy="129.7" r="2.7" fill="#000"/>
<text x="684.5" y="17.3" font-size="12.3" text-anchor="end" font-weight="normal" fill="#000" >NRF1</text>
<text x="684.5" y="32.5" font-size="12.3" text-anchor="end" font-weight="normal" fill="#000" >z-score=8.29</text>
<path d="M530.5 146.5V273.5H683.5" fill="none" stroke="#000" stroke-width="1.3"/>
<line x1="526.2" x2="530.0" y1="152.5" y2="152.5" stroke="#222" stroke-width="1.3"/>
<text x="0" y="0" font-size="10.4" text-anchor="end" transform="translate(522.8,156.65) scale(0.923,1)">0.03</text>
<line x1="526.2" x2="530.0" y1="176.5" y2="176.5" stroke="#222" stroke-width="1.3"/>
<text x="0" y="0" font-size="10.4" text-anchor="end" transform="translate(522.8,179.95) scale(0.923,1)">0.02</text>
<line x1="526.2" x2="530.0" y1="199.5" y2="199.5" stroke="#222" stroke-width="1.3"/>
<text x="0" y="0" font-size="10.4" text-anchor="end" transform="translate(522.8,203.35) scale(0.923,1)">0.01</text>
<line x1="526.2" x2="530.0" y1="222.5" y2="222.5" stroke="#222" stroke-width="1.3"/>
<text x="0" y="0" font-size="10.4" text-anchor="end" transform="translate(522.8,226.25) scale(0.923,1)">0.00</text>
<line x1="526.2" x2="530.0" y1="245.5" y2="245.5" stroke="#222" stroke-width="1.3"/>
<text x="0" y="0" font-size="10.4" text-anchor="end" transform="translate(522.8,249.35) scale(0.923,1)">−0.01</text>
<line x1="526.2" x2="530.0" y1="268.5" y2="268.5" stroke="#222" stroke-width="1.3"/>
<text x="0" y="0" font-size="10.4" text-anchor="end" transform="translate(522.8,272.25) scale(0.923,1)">−0.02</text>
<text x="0" y="0" font-size="14" text-anchor="middle" transform="translate(485.8,209.85) rotate(-90)">Activity [a.u.]</text>
<rect x="540.3" y="152.9" width="38" height="5.3" fill="#333333"/>
<line x1="607.2" x2="607.2" y1="240.5" y2="245.6" stroke="#333333" stroke-width="1.2"/>
<line x1="607.2" x2="607.2" y1="256.1" y2="261" stroke="#333333" stroke-width="1.2"/>
<rect x="588.9" y="246.3" width="36.6" height="9.1" fill="#fff" stroke="#333333" stroke-width="1.4"/>
<line x1="588.9" x2="625.5" y1="250.5" y2="250.5" stroke="#333333" stroke-width="2.8"/>
<line x1="655.1" x2="655.1" y1="262.7" y2="267.3" stroke="#333333" stroke-width="1.2"/>
<rect x="636.8" y="256.8" width="36.6" height="5.2" fill="#fff" stroke="#333333" stroke-width="1.4"/>
<line x1="636.8" x2="673.4" y1="257.6" y2="257.6" stroke="#333333" stroke-width="2.8"/>
<circle cx="561.2" cy="151" r="2.7" fill="#000"/>
<circle cx="553.5" cy="156.8" r="2.7" fill="#000"/>
<circle cx="566.4" cy="159.2" r="2.7" fill="#000"/>
<circle cx="604.4" cy="241.2" r="2.7" fill="#000"/>
<circle cx="604.4" cy="251" r="2.7" fill="#000"/>
<circle cx="606.1" cy="261" r="2.7" fill="#000"/>
<circle cx="650.7" cy="256.1" r="2.7" fill="#000"/>
<circle cx="655.8" cy="256.1" r="2.7" fill="#000"/>
<circle cx="658.2" cy="267.3" r="2.7" fill="#000"/>
<text x="684.5" y="154" font-size="12.3" text-anchor="end" font-weight="normal" fill="#000" >ZNF711/TFAP2A/</text>
<text x="684.5" y="169.8" font-size="12.3" text-anchor="end" font-weight="normal" fill="#000" >TFAP2D</text>
<text x="684.5" y="185.6" font-size="12.3" text-anchor="end" font-weight="normal" fill="#000" >z-score=7.11</text>
<path d="M530.5 281.5V408.5H683.5" fill="none" stroke="#000" stroke-width="1.3"/>
<line x1="526.2" x2="530.0" y1="310.5" y2="310.5" stroke="#222" stroke-width="1.3"/>
<text x="0" y="0" font-size="10.4" text-anchor="end" transform="translate(522.8,314.05) scale(0.923,1)">0.025</text>
<line x1="526.2" x2="530.0" y1="343.5" y2="343.5" stroke="#222" stroke-width="1.3"/>
<text x="0" y="0" font-size="10.4" text-anchor="end" transform="translate(522.8,347.15) scale(0.923,1)">0.000</text>
<line x1="526.2" x2="530.0" y1="376.5" y2="376.5" stroke="#222" stroke-width="1.3"/>
<text x="0" y="0" font-size="10.4" text-anchor="end" transform="translate(522.8,379.95) scale(0.923,1)">−0.025</text>
<line x1="526.2" x2="530.0" y1="408.5" y2="408.5" stroke="#222" stroke-width="1.3"/>
<text x="0" y="0" font-size="10.4" text-anchor="end" transform="translate(522.8,412.25) scale(0.923,1)">−0.050</text>
<text x="0" y="0" font-size="14" text-anchor="middle" transform="translate(485.8,345.05) rotate(-90)">Activity [a.u.]</text>
<line x1="559.3" x2="559.3" y1="395" y2="396.5" stroke="#333333" stroke-width="1.2"/>
<line x1="559.3" x2="559.3" y1="402.3" y2="403.5" stroke="#333333" stroke-width="1.2"/>
<rect x="540.3" y="396.5" width="38" height="5.8" fill="#333333"/>
<line x1="607.2" x2="607.2" y1="317.8" y2="320.1" stroke="#333333" stroke-width="1.2"/>
<line x1="607.2" x2="607.2" y1="332.2" y2="341.1" stroke="#333333" stroke-width="1.2"/>
<rect x="588.9" y="320.8" width="36.6" height="10.7" fill="#fff" stroke="#333333" stroke-width="1.4"/>
<line x1="588.9" x2="625.5" y1="322.6" y2="322.6" stroke="#333333" stroke-width="2.8"/>
<line x1="655.1" x2="655.1" y1="287" y2="295.4" stroke="#333333" stroke-width="1.2"/>
<line x1="655.1" x2="655.1" y1="311.9" y2="318" stroke="#333333" stroke-width="1.2"/>
<rect x="636.8" y="296.1" width="36.6" height="15.1" fill="#fff" stroke="#333333" stroke-width="1.4"/>
<line x1="636.8" x2="673.4" y1="304.5" y2="304.5" stroke="#333333" stroke-width="2.8"/>
<circle cx="559.6" cy="394.9" r="2.7" fill="#000"/>
<circle cx="555.4" cy="400" r="2.7" fill="#000"/>
<circle cx="550.7" cy="403.5" r="2.7" fill="#000"/>
<circle cx="613.1" cy="317.8" r="2.7" fill="#000"/>
<circle cx="611.9" cy="322.9" r="2.7" fill="#000"/>
<circle cx="606.5" cy="341.1" r="2.7" fill="#000"/>
<circle cx="654.1" cy="286.9" r="2.7" fill="#000"/>
<circle cx="650.7" cy="304.8" r="2.7" fill="#000"/>
<circle cx="663.9" cy="318.1" r="2.7" fill="#000"/>
<text x="684.5" y="373.1" font-size="12.3" text-anchor="end" font-weight="normal" fill="#000" >PLAGL1</text>
<text x="684.5" y="388.6" font-size="12.3" text-anchor="end" font-weight="normal" fill="#000" >z-score=6.92</text>
<path d="M530.5 419.8V547.5H683.5" fill="none" stroke="#000" stroke-width="1.3"/>
<line x1="526.2" x2="530.0" y1="428.5" y2="428.5" stroke="#222" stroke-width="1.3"/>
<text x="0" y="0" font-size="10.4" text-anchor="end" transform="translate(522.8,431.85) scale(0.923,1)">0.10</text>
<line x1="526.2" x2="530.0" y1="460.5" y2="460.5" stroke="#222" stroke-width="1.3"/>
<text x="0" y="0" font-size="10.4" text-anchor="end" transform="translate(522.8,464.05) scale(0.923,1)">0.05</text>
<line x1="526.2" x2="530.0" y1="492.5" y2="492.5" stroke="#222" stroke-width="1.3"/>
<text x="0" y="0" font-size="10.4" text-anchor="end" transform="translate(522.8,496.55) scale(0.923,1)">0.00</text>
<line x1="526.2" x2="530.0" y1="525.5" y2="525.5" stroke="#222" stroke-width="1.3"/>
<text x="0" y="0" font-size="10.4" text-anchor="end" transform="translate(522.8,529.35) scale(0.923,1)">−0.05</text>
<text x="0" y="0" font-size="14" text-anchor="middle" transform="translate(485.8,483.6) rotate(-90)">Activity [a.u.]</text>
<line x1="559.3" x2="559.3" y1="431.5" y2="434.1" stroke="#333333" stroke-width="1.2"/>
<rect x="541" y="426.6" width="36.6" height="4.2" fill="#fff" stroke="#333333" stroke-width="1.4"/>
<line x1="541" x2="577.6" y1="427.6" y2="427.6" stroke="#333333" stroke-width="2.8"/>
<line x1="607.2" x2="607.2" y1="509.8" y2="512.1" stroke="#333333" stroke-width="1.2"/>
<rect x="588.2" y="512.1" width="38" height="6.5" fill="#333333"/>
<line x1="655.1" x2="655.1" y1="538.5" y2="542" stroke="#333333" stroke-width="1.2"/>
<rect x="636.8" y="532.2" width="36.6" height="5.6" fill="#fff" stroke="#333333" stroke-width="1.4"/>
<line x1="636.8" x2="673.4" y1="533.6" y2="533.6" stroke="#333333" stroke-width="2.8"/>
<circle cx="563.6" cy="425.2" r="2.7" fill="#000"/>
<circle cx="565.2" cy="427.5" r="2.7" fill="#000"/>
<circle cx="568.2" cy="434.1" r="2.7" fill="#000"/>
<circle cx="599.8" cy="509.3" r="2.7" fill="#000"/>
<circle cx="602.1" cy="519.3" r="2.7" fill="#000"/>
<circle cx="615" cy="515.8" r="2.7" fill="#000"/>
<circle cx="648.4" cy="529.6" r="2.7" fill="#000"/>
<circle cx="657" cy="533.4" r="2.7" fill="#000"/>
<circle cx="650.7" cy="542" r="2.7" fill="#000"/>
<text x="684.5" y="430.6" font-size="12.3" text-anchor="end" font-weight="normal" fill="#000" >TAF1</text>
<text x="684.5" y="445.1" font-size="12.3" text-anchor="end" font-weight="normal" fill="#000" >z-score=6.72</text>
<path d="M530.5 558.9V685.5H683.5" fill="none" stroke="#000" stroke-width="1.3"/>
<line x1="526.2" x2="530.0" y1="559.5" y2="559.5" stroke="#222" stroke-width="1.3"/>
<text x="0" y="0" font-size="10.4" text-anchor="end" transform="translate(522.8,563.05) scale(0.923,1)">0.03</text>
<line x1="526.2" x2="530.0" y1="583.5" y2="583.5" stroke="#222" stroke-width="1.3"/>
<text x="0" y="0" font-size="10.4" text-anchor="end" transform="translate(522.8,587.65) scale(0.923,1)">0.02</text>
<line x1="526.2" x2="530.0" y1="609.5" y2="609.5" stroke="#222" stroke-width="1.3"/>
<text x="0" y="0" font-size="10.4" text-anchor="end" transform="translate(522.8,612.75) scale(0.923,1)">0.01</text>
<line x1="526.2" x2="530.0" y1="634.5" y2="634.5" stroke="#222" stroke-width="1.3"/>
<text x="0" y="0" font-size="10.4" text-anchor="end" transform="translate(522.8,637.75) scale(0.923,1)">0.00</text>
<line x1="526.2" x2="530.0" y1="658.5" y2="658.5" stroke="#222" stroke-width="1.3"/>
<text x="0" y="0" font-size="10.4" text-anchor="end" transform="translate(522.8,662.35) scale(0.923,1)">−0.01</text>
<line x1="526.2" x2="530.0" y1="683.5" y2="683.5" stroke="#222" stroke-width="1.3"/>
<text x="0" y="0" font-size="10.4" text-anchor="end" transform="translate(522.8,687.15) scale(0.923,1)">−0.02</text>
<text x="0" y="0" font-size="14" text-anchor="middle" transform="translate(485.8,622.35) rotate(-90)">Activity [a.u.]</text>
<rect x="540.3" y="565.2" width="38" height="3.2" fill="#333333"/>
<rect x="588.2" y="673.4" width="38" height="5.1" fill="#333333"/>
<line x1="655.1" x2="655.1" y1="643" y2="649.3" stroke="#333333" stroke-width="1.2"/>
<line x1="655.1" x2="655.1" y1="666.4" y2="677.3" stroke="#333333" stroke-width="1.2"/>
<rect x="636.8" y="650" width="36.6" height="15.7" fill="#fff" stroke="#333333" stroke-width="1.4"/>
<line x1="636.8" x2="673.4" y1="655.8" y2="655.8" stroke="#333333" stroke-width="2.8"/>
<circle cx="567.1" cy="563.6" r="2.7" fill="#000"/>
<circle cx="566.6" cy="566.4" r="2.7" fill="#000"/>
<circle cx="567.8" cy="569.2" r="2.7" fill="#000"/>
<circle cx="616.6" cy="671.5" r="2.7" fill="#000"/>
<circle cx="608" cy="676.2" r="2.7" fill="#000"/>
<circle cx="605.1" cy="680.1" r="2.7" fill="#000"/>
<circle cx="652.8" cy="643" r="2.7" fill="#000"/>
<circle cx="650.7" cy="655.8" r="2.7" fill="#000"/>
<circle cx="660" cy="677.3" r="2.7" fill="#000"/>
<text x="684.5" y="567.5" font-size="12.3" text-anchor="end" font-weight="normal" fill="#000" >YBX1/FOS/</text>
<text x="684.5" y="583.1" font-size="12.3" text-anchor="end" font-weight="normal" fill="#000" >NFYC/NFYA/</text>
<text x="684.5" y="598.7" font-size="12.3" text-anchor="end" font-weight="normal" fill="#000" >NFYB/CEBPZ</text>
<text x="684.5" y="614.3" font-size="12.3" text-anchor="end" font-weight="normal" fill="#000" >z-score=5.96</text>
<line x1="559.3" x2="559.3" y1="685.8" y2="689.6" stroke="#333" stroke-width="1.1"/>
<text x="0" y="0" font-size="12.4" text-anchor="end" transform="translate(562.6,702.8) rotate(-30)">Control</text>
<line x1="607.2" x2="607.2" y1="685.8" y2="689.6" stroke="#333" stroke-width="1.1"/>
<text x="0" y="0" font-size="12.4" text-anchor="end" transform="translate(610.5,702.8) rotate(-30)">Collagen (0.5 mg/ml)</text>
<line x1="655.1" x2="655.1" y1="685.8" y2="689.6" stroke="#333" stroke-width="1.1"/>
<text x="0" y="0" font-size="12.4" text-anchor="end" transform="translate(658.4,702.8) rotate(-30)">Collagen (1.0 mg/ml)</text>
<path d="M530.5 786.5V914.5H683.5" fill="none" stroke="#000" stroke-width="1.3"/>
<line x1="526.2" x2="530.0" y1="795.5" y2="795.5" stroke="#222" stroke-width="1.3"/>
<text x="0" y="0" font-size="10.4" text-anchor="end" transform="translate(522.8,799.65) scale(0.923,1)">0.010</text>
<line x1="526.2" x2="530.0" y1="826.5" y2="826.5" stroke="#222" stroke-width="1.3"/>
<text x="0" y="0" font-size="10.4" text-anchor="end" transform="translate(522.8,830.45) scale(0.923,1)">0.005</text>
<line x1="526.2" x2="530.0" y1="857.5" y2="857.5" stroke="#222" stroke-width="1.3"/>
<text x="0" y="0" font-size="10.4" text-anchor="end" transform="translate(522.8,860.85) scale(0.923,1)">0.000</text>
<line x1="526.2" x2="530.0" y1="888.5" y2="888.5" stroke="#222" stroke-width="1.3"/>
<text x="0" y="0" font-size="10.4" text-anchor="end" transform="translate(522.8,891.75) scale(0.923,1)">−0.005</text>
<text x="0" y="0" font-size="14" text-anchor="middle" transform="translate(485.8,850.4) rotate(-90)">Activity [a.u.]</text>
<rect x="538.4" y="791.7" width="28.4" height="4.9" fill="#333333"/>
<line x1="589.3" x2="589.3" y1="857.1" y2="859.4" stroke="#333333" stroke-width="1.2"/>
<line x1="589.3" x2="589.3" y1="877.4" y2="891" stroke="#333333" stroke-width="1.2"/>
<rect x="575.8" y="860.1" width="27" height="16.6" fill="#fff" stroke="#333333" stroke-width="1.4"/>
<line x1="575.8" x2="602.8" y1="862.9" y2="862.9" stroke="#333333" stroke-width="2.8"/>
<line x1="625.9" x2="625.9" y1="852" y2="862.2" stroke="#333333" stroke-width="1.2"/>
<rect x="612.4" y="862.9" width="27" height="10.8" fill="#fff" stroke="#333333" stroke-width="1.4"/>
<line x1="612.4" x2="639.4" y1="872.8" y2="872.8" stroke="#333333" stroke-width="2.8"/>
<line x1="662.4" x2="662.4" y1="886.3" y2="892.4" stroke="#333333" stroke-width="1.2"/>
<rect x="648.9" y="893.1" width="27" height="10" fill="#fff" stroke="#333333" stroke-width="1.4"/>
<line x1="648.9" x2="675.9" y1="899.2" y2="899.2" stroke="#333333" stroke-width="2.8"/>
<circle cx="549.5" cy="791.7" r="2.7" fill="#000"/>
<circle cx="555.8" cy="793.3" r="2.7" fill="#000"/>
<circle cx="553.5" cy="798.7" r="2.7" fill="#000"/>
<circle cx="587.4" cy="856.4" r="2.7" fill="#000"/>
<circle cx="583" cy="863.6" r="2.7" fill="#000"/>
<circle cx="590" cy="891" r="2.7" fill="#000"/>
<circle cx="627.1" cy="852" r="2.7" fill="#000"/>
<circle cx="618.5" cy="873" r="2.7" fill="#000"/>
<circle cx="620.8" cy="873" r="2.7" fill="#000"/>
<circle cx="667.5" cy="885.8" r="2.7" fill="#000"/>
<circle cx="655.8" cy="899.2" r="2.7" fill="#000"/>
<circle cx="662.4" cy="908" r="2.7" fill="#000"/>
<text x="684.5" y="795" font-size="12.3" text-anchor="end" font-weight="normal" fill="#000" >SP4/PML</text>
<text x="684.5" y="811" font-size="12.3" text-anchor="end" font-weight="normal" fill="#000" >z-score=3.35</text>
<line x1="552.6" x2="552.6" y1="914.3" y2="918.1" stroke="#333" stroke-width="1.1"/>
<text x="0" y="0" font-size="12.4" text-anchor="end" transform="translate(555.9,931.3) rotate(-30)">Control</text>
<line x1="589.3" x2="589.3" y1="914.3" y2="918.1" stroke="#333" stroke-width="1.1"/>
<text x="0" y="0" font-size="12.4" text-anchor="end" transform="translate(592.6,931.3) rotate(-30)">Matrigel (1.5 mg/ml)</text>
<line x1="625.9" x2="625.9" y1="914.3" y2="918.1" stroke="#333" stroke-width="1.1"/>
<text x="0" y="0" font-size="12.4" text-anchor="end" transform="translate(629.2,931.3) rotate(-30)">Matrigel (3.0 mg/ml)</text>
<line x1="662.4" x2="662.4" y1="914.3" y2="918.1" stroke="#333" stroke-width="1.1"/>
<text x="0" y="0" font-size="12.4" text-anchor="end" transform="translate(665.7,931.3) rotate(-30)">Matrigel (6.0 mg/ml)</text>
</svg>
</body></html>
